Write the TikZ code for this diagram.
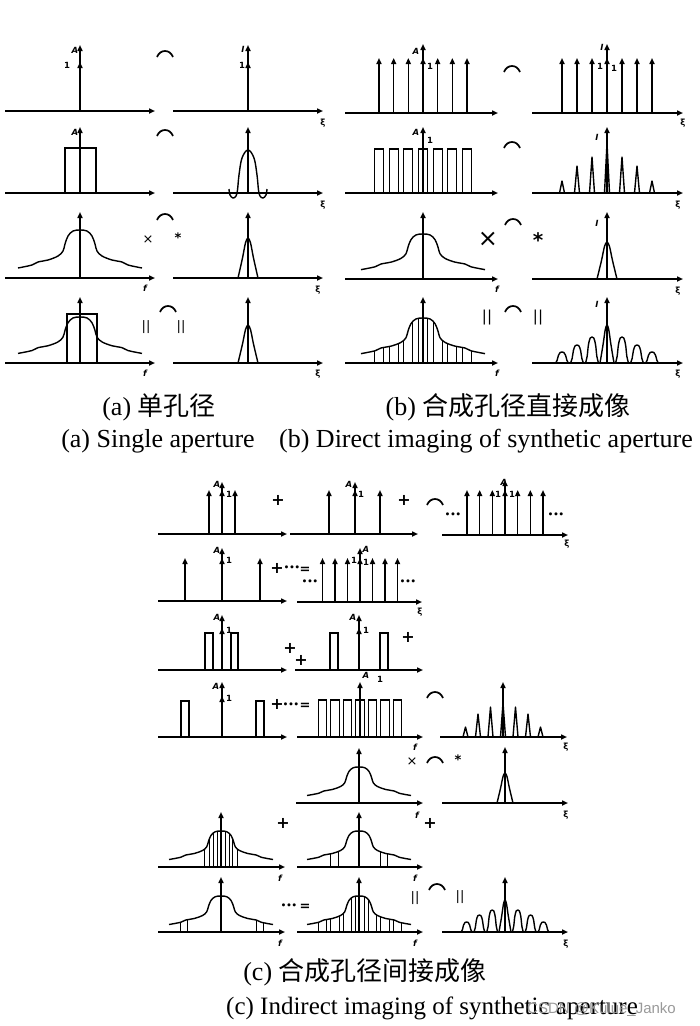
\documentclass[tikz,border=0pt]{standalone}
\usepackage{fontspec}
\usetikzlibrary{arrows.meta}
\newfontfamily\capfont{Liberation Serif}
\newfontfamily\cjk{Noto Sans CJK SC}
\newfontfamily\symfont{DejaVu Sans}
\newfontfamily\wmfont{Liberation Sans}
\newcommand{\labf}{\symfont\bfseries\fontsize{8.5}{8.5}\selectfont}
% axes: x0, x1, y, cx, tip
\newcommand{\Axes}[5]{\draw[axline] (#1,#3) -- (#2,#3); \draw[axline] (#4,#3) -- (#4,#5);}
% delta: x, axis y, tip
\newcommand{\Dlt}[3]{\draw[axline] (#1,#2) -- (#1,#3);}
% pulse: x1, x2, axis y, top
\newcommand{\Pulse}[4]{\draw[pl] (#1,#3) -- (#1,#4) -- (#2,#4) -- (#2,#3);}
% FT pair symbol
\newcommand{\FT}[2]{\draw[ft] (#1-8,#2+3) .. controls (#1-5,#2-5) and (#1+5,#2-5) .. (#1+8,#2+3);}
% spectrum curve: cx, ay, W, H
\newcommand{\Spec}[4]{\begin{scope}[shift={(#1,#2)},xscale=#3/62,yscale=-#4/48]
\draw[cv] plot[smooth,tension=0.6] coordinates {(-62,10) (-48,13) (-42,16) (-32,18) (-22,22) (-17,27) (-15,34) (-12,42) (-7,47) (0,48) (7,47) (12,42) (15,34) (17,27) (22,22) (32,18) (42,16) (48,13) (62,10)};
\end{scope}}
\newcommand{\SpecH}[5]{\begin{scope}[shift={(#1,#2)},xscale=#3/62,yscale=-#4/48]
\begin{scope}
\clip plot[smooth,tension=0.6] coordinates {(-62,10) (-48,13) (-42,16) (-32,18) (-22,22) (-17,27) (-15,34) (-12,42) (-7,47) (0,48) (7,47) (12,42) (15,34) (17,27) (22,22) (32,18) (42,16) (48,13) (62,10)} -- (62,0) -- (-62,0) -- cycle;
\foreach \h in {#5} {\draw[hl] ({\h*62/#3},-2) -- ({\h*62/#3},70);}
\end{scope}
\draw[cv] plot[smooth,tension=0.6] coordinates {(-62,10) (-48,13) (-42,16) (-32,18) (-22,22) (-17,27) (-15,34) (-12,42) (-7,47) (0,48) (7,47) (12,42) (15,34) (17,27) (22,22) (32,18) (42,16) (48,13) (62,10)};
\end{scope}}
% narrow peak: cx, ay, half width, height
\newcommand{\Peak}[4]{\draw[cv] plot[smooth,tension=0.5] coordinates {(#1-#3,#2) (#1-0.55*#3,#2-0.5*#4) (#1-0.25*#3,#2-0.88*#4) (#1,#2-#4) (#1+0.25*#3,#2-0.88*#4) (#1+0.55*#3,#2-0.5*#4) (#1+#3,#2)};}
% spike: x, ay, half width, height
\newcommand{\Spike}[4]{\draw[cv] (#1-#3,#2) -- (#1,#2-#4) -- (#1+#3,#2);}
% lobe: x, ay, half width, height
\newcommand{\Lobe}[4]{\draw[cv] plot[smooth,tension=0.6] coordinates {(#1-#3,#2) (#1-0.75*#3,#2-0.25*#4) (#1-0.55*#3,#2-0.7*#4) (#1-0.28*#3,#2-0.96*#4) (#1,#2-#4) (#1+0.28*#3,#2-0.96*#4) (#1+0.55*#3,#2-0.7*#4) (#1+0.75*#3,#2-0.25*#4) (#1+#3,#2)};}
\begin{document}
\begin{tikzpicture}[x=1pt,y=-1pt,
  axline/.style={line width=1.6pt,-{Triangle[length=6pt,width=5pt]}},
  pl/.style={line width=1.3pt,line join=miter},
  cv/.style={line width=1.4pt,line join=round},
  hl/.style={line width=0.8pt},
  ft/.style={line width=1.7pt},
  lab/.style={font=\labf,inner sep=0pt},
  sym/.style={font=\symfont\bfseries\fontsize{16}{16}\selectfont,inner sep=0pt},
  smallsym/.style={font=\symfont\fontsize{13}{13}\selectfont,inner sep=0pt},
  dots/.style={font=\symfont\bfseries\fontsize{8.5}{8.5}\selectfont,inner sep=0pt},
  captext/.style={font=\capfont\fontsize{26}{26}\selectfont,anchor=base,inner sep=0pt},
  wm/.style={font=\wmfont\fontsize{15}{15}\selectfont,text=black!40,inner sep=0pt}]
\useasboundingbox (0,0) rectangle (700,1026);

% ================= (a) =================
% row 1
\Axes{5}{155}{111}{80}{45}
\Dlt{80}{111}{62}
\node[lab] (aA1) at (75,50) {\itshape A};
\node[lab] (a11) at (67,65) {1};
\FT{165}{54}
\Axes{173}{323}{111}{248}{45}
\Dlt{248}{111}{62}
\node[lab] (aI1) at (243,49) {\itshape I};
\node[lab] (a12) at (242,65) {1};
\node[lab] (axi1) at (323,123) {ξ};
% row 2
\Axes{5}{155}{193}{80}{127}
\Pulse{65}{96}{193}{148}
\node[lab] (aA2) at (75,132) {\itshape A};
\FT{165}{133}
\Axes{173}{323}{193}{248}{127}
\draw[cv] plot[smooth,tension=0.6] coordinates {(229,189) (230,195) (233,198) (236,196) (237.5,190) (239,175) (242,158) (248,150) (254,158) (257,175) (258.5,190) (260,196) (263,198) (266,195) (267,189)};
\node[lab] (axi2) at (323,205) {ξ};
% row 3
\Axes{5}{155}{278}{80}{212}
\Spec{80}{278}{62}{48}
\node[lab] (af3) at (145,288) {\itshape f};
\node[smallsym] (atimes) at (148,240) {×};
\FT{165}{217}
\node[smallsym] (astar) at (178,238) {\bfseries *};
\Axes{173}{323}{278}{248}{212}
\Peak{248}{278}{10}{40}
\node[lab] (axi3) at (318,290) {ξ};
% row 4
\Axes{5}{155}{363}{80}{297}
\Pulse{67}{97}{363}{314}
\Spec{80}{363}{62}{46}
\node[lab] (af4) at (145,373) {\itshape f};
\node[smallsym] (aeq1) at (146,327) {||};
\FT{168}{309}
\node[smallsym] (aeq2) at (181,327) {||};
\Axes{173}{323}{363}{248}{297}
\Peak{248}{363}{10}{38}
\node[lab] (axi4) at (318,374) {ξ};

% ================= (b) =================
% row 1
\Axes{345}{498}{113}{423}{44}
\foreach \k in {-3,...,3} {\pgfmathsetmacro\xx{423+\k*14.67}\Dlt{\xx}{113}{58}}
\node[lab] (bA1) at (416,51) {\itshape A};
\node[lab] (b11) at (430,66) {1};
\FT{512}{69}
\Axes{532}{683}{113}{607}{44}
\foreach \k in {-3,...,3} {\pgfmathsetmacro\xx{607+\k*15}\Dlt{\xx}{113}{58}}
\node[lab] (bI1) at (602,47) {\itshape I};
\node[lab] (b12) at (600,66) {1};
\node[lab] (b13) at (614,68) {1};
\node[lab] (bxi1) at (683,123) {ξ};
% row 2
\Axes{345}{498}{193}{423}{127}
\foreach \k in {-3,...,3} {\pgfmathsetmacro\xx{423+\k*14.67}\Pulse{\xx-4.5}{\xx+4.5}{193}{149}}
\node[lab] (bA2) at (416,132) {\itshape A};
\node[lab] (b21) at (430,140) {1};
\FT{512}{145}
\Axes{532}{683}{193}{607}{127}
\foreach \k/\h in {-3/12,-2/27,-1/36,0/50,1/36,2/27,3/12} {\pgfmathsetmacro\xx{607+\k*15}\Spike{\xx}{193}{2.5}{\h}}
\node[lab] (bI2) at (597,137) {\itshape I};
\node[lab] (bxi2) at (678,205) {ξ};
% row 3
\Axes{345}{498}{279}{423}{212}
\Spec{423}{279}{62}{45}
\node[lab] (bf3) at (497,289) {\itshape f};
\node[sym,font=\symfont\fontsize{24}{24}\selectfont] (btimes) at (488,239) {×};
\FT{513}{222}
\node[sym,font=\symfont\bfseries\fontsize{20}{20}\selectfont] (bstar) at (538,240) {*};
\Axes{532}{683}{279}{607}{212}
\Peak{607}{279}{10}{37}
\node[lab] (bI3) at (597,223) {\itshape I};
\node[lab] (bxi3) at (678,291) {ξ};
% row 4
\Axes{345}{498}{363}{423}{297}
\SpecH{423}{363}{62}{45}{-48.5,-39.5,-33.8,-24.8,-19.2,-10.2,-4.5,4.5,10.2,19.2,24.8,33.8,39.5,48.5}
\node[lab] (bf4) at (497,373) {\itshape f};
\node[smallsym,font=\symfont\fontsize{15}{15}\selectfont] (beq1) at (487,318) {||};
\FT{513}{309}
\node[smallsym,font=\symfont\fontsize{15}{15}\selectfont] (beq2) at (538,318) {||};
\Axes{532}{683}{363}{607}{297}
\foreach \k/\h in {-3/11,-2/18,-1/26,1/26,2/18,3/11} {\pgfmathsetmacro\xx{607+\k*15}\Lobe{\xx}{363}{6.5}{\h}}
\Peak{607}{363}{7}{38}
\node[lab] (bI4) at (597,304) {\itshape I};
\node[lab] (bxi4) at (678,374) {ξ};

% ================= (c) =================
% row 1
\Axes{158}{287}{534}{222}{482}
\foreach \xx in {209,222,235} {\Dlt{\xx}{534}{490}}
\node[lab] (cA1) at (217,484) {\itshape A};
\node[lab] (c11) at (229,494) {1};
\node[sym] (cp1) at (278,500) {+};
\Axes{290}{418}{534}{355}{482}
\foreach \xx in {329,355,380} {\Dlt{\xx}{534}{490}}
\node[lab] (cA2) at (349,484) {\itshape A};
\node[lab] (c12) at (361,494) {1};
\node[sym] (cp2) at (404,500) {+};
\FT{435}{502}
\Axes{442}{568}{535}{505}{480}
\foreach \k in {-3,...,3} {\pgfmathsetmacro\xx{505+\k*12.67}\Dlt{\xx}{535}{490}}
\node[lab] (cA3) at (504,482) {\itshape A};
\node[lab] (c13) at (498,494) {1};
\node[lab] (c14) at (512,494) {1};
\node[dots] (cd1) at (453,515) {•••};
\node[dots] (cd2) at (556,515) {•••};
\node[lab] (cxi1) at (567,544) {ξ};
% row 2
\Axes{158}{287}{601}{222}{548}
\foreach \xx in {185,222,260} {\Dlt{\xx}{601}{558}}
\node[lab] (cA4) at (217,550) {\itshape A};
\node[lab] (c21) at (229,560) {1};
\node[sym] (cp3) at (277,568) {+};
\node[dots] (cd3) at (292,568) {•••};
\node[smallsym] (ceq1) at (305,570) {\bfseries =};
\Axes{297}{422}{602}{360}{548}
\foreach \k in {-3,...,3} {\pgfmathsetmacro\xx{360+\k*12.5}\Dlt{\xx}{602}{558}}
\node[lab] (cA5) at (366,549) {\itshape A};
\node[lab] (c22) at (354,560) {1};
\node[lab] (c23) at (366,562) {1};
\node[dots] (cd4) at (310,582) {•••};
\node[dots] (cd5) at (408,582) {•••};
\node[lab] (cxi2) at (420,612) {ξ};
% row 3
\Axes{158}{287}{670}{222}{615}
\Dlt{222}{670}{628}
\Pulse{205}{213}{670}{633}
\Pulse{231}{238}{670}{633}
\node[lab] (cA6) at (217,617) {\itshape A};
\node[lab] (c31) at (229,630) {1};
\node[sym] (cp4) at (290,648) {+};
\node[sym] (cp5) at (301,660) {+};
\Axes{295}{423}{670}{359}{615}
\Dlt{359}{670}{628}
\Pulse{330}{338}{670}{633}
\Pulse{380}{388}{670}{633}
\node[lab] (cA7) at (353,617) {\itshape A};
\node[lab] (c32) at (366,630) {1};
\node[lab] (cA8) at (366,675) {\itshape A};
\node[lab] (c33) at (380,679) {1};
\node[sym] (cp6) at (408,637) {+};
% row 4
\Axes{158}{287}{737}{222}{682}
\Dlt{222}{737}{696}
\Pulse{181}{189}{737}{701}
\Pulse{256}{264}{737}{701}
\node[lab] (cA9) at (216,686) {\itshape A};
\node[lab] (c41) at (229,698) {1};
\node[sym] (cp7) at (277,704) {+};
\node[dots] (cd6) at (291,705) {•••};
\node[smallsym] (ceq2) at (305,706) {\bfseries =};
\Axes{297}{423}{737}{360}{682}
\foreach \k in {-3,...,3} {\pgfmathsetmacro\xx{360+\k*12.5}\Pulse{\xx-4.2}{\xx+4.2}{737}{700}}
\node[lab] (cf4) at (415,747) {\itshape f};
\FT{435}{695}
\Axes{440}{567}{737}{503}{682}
\foreach \k/\h in {-3/10,-2/23,-1/30,0/34,1/30,2/23,3/10} {\pgfmathsetmacro\xx{503+\k*12.5}\Spike{\xx}{737}{2.5}{\h}}
\node[lab] (cxi4) at (566,747) {ξ};
% row 5
\Axes{296}{423}{803}{359}{748}
\Spec{359}{803}{52}{36}
\node[lab] (cf5) at (417,815) {\itshape f};
\node[smallsym] (ctimes) at (412,762) {×};
\FT{435}{760}
\node[smallsym] (cstar) at (458,760) {\bfseries *};
\Axes{442}{568}{803}{505}{747}
\Peak{505}{803}{8}{30}
\node[lab] (cxi5) at (566,815) {ξ};
% row 6
\Axes{158}{285}{867}{221}{812}
\SpecH{221}{867}{52}{36}{-16.7,-11.7,-7.4,-3.4,4.3,8.3,11.6,16}
\node[lab] (cf6a) at (280,878) {\itshape f};
\node[sym] (cp8) at (283,823) {+};
\Axes{297}{423}{867}{359}{812}
\SpecH{359}{867}{52}{36}{-29,-21,21,28}
\node[lab] (cf6b) at (415,878) {\itshape f};
\node[sym] (cp9) at (430,823) {+};
% row 7
\Axes{158}{285}{932}{221}{877}
\SpecH{221}{932}{52}{36}{-41,-34,35,42}
\node[lab] (cf7a) at (280,943) {\itshape f};
\node[dots] (cd7) at (289,906) {•••};
\node[smallsym] (ceq3) at (305,907) {\bfseries =};
\Axes{297}{423}{932}{359}{877}
\SpecH{359}{932}{52}{36}{-40.7,-32.3,-28.2,-19.8,-15.7,-7.3,-3.2,5.2,9.3,17.7,21.8,30.2,34.3,42.7}
\node[lab] (cf7b) at (415,943) {\itshape f};
\node[smallsym] (ceq4) at (415,898) {||};
\FT{437}{887}
\node[smallsym] (ceq5) at (460,897) {||};
\Axes{442}{568}{932}{505}{877}
\foreach \k/\h in {-3/10,-2/17,-1/22,1/22,2/17,3/10} {\pgfmathsetmacro\xx{505+\k*12.8}\Lobe{\xx}{932}{5.5}{\h}}
\Peak{505}{932}{6}{32}
\node[lab] (cxi7) at (566,944) {ξ};

% ================= captions =================
\node[captext] (capa1) at (159,415) {(a) {\cjk 单孔径}};
\node[captext] (capb1) at (508,415) {(b) {\cjk 合成孔径直接成像}};
\node[captext] (capa2) at (158,447) {(a) Single aperture};
\node[captext] (capb2) at (486,447) {(b) Direct imaging of synthetic aperture};
\node[captext] (capc1) at (365,980) {(c) {\cjk 合成孔径间接成像}};
\node[captext,font=\capfont\fontsize{25}{25}\selectfont] (capc2) at (432,1014) {(c) Indirect imaging of synthetic aperture};
\node[wm,anchor=base west] (wmark) at (527,1013) {CSDN @Kulue\_Janko};
\end{tikzpicture}
\end{document}
